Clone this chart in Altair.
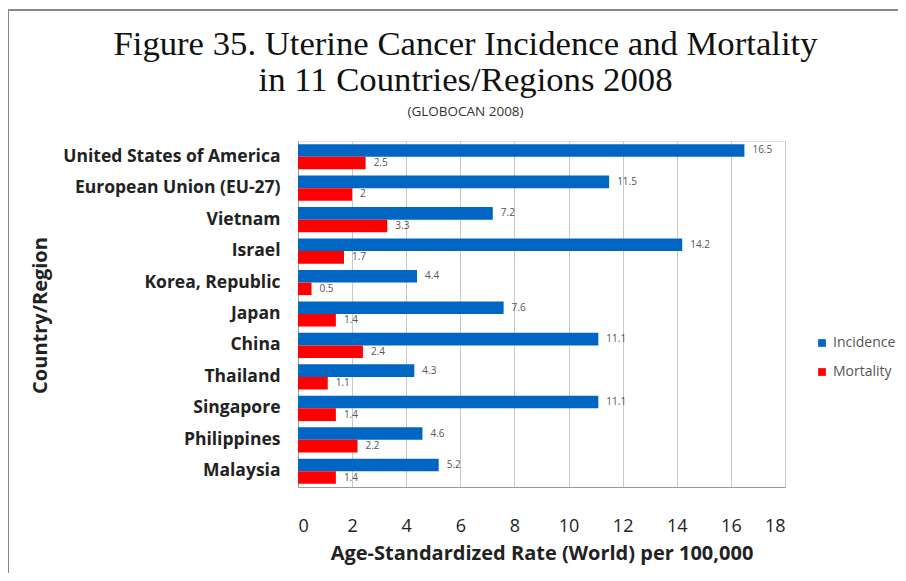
import altair as alt
import pandas as pd

countries = ["United States of America", "European Union (EU-27)", "Vietnam", "Israel",
             "Korea, Republic", "Japan", "China", "Thailand", "Singapore", "Philippines", "Malaysia"]
incidence = [16.5, 11.5, 7.2, 14.2, 4.4, 7.6, 11.1, 4.3, 11.1, 4.6, 5.2]
mortality = [2.5, 2, 3.3, 1.7, 0.5, 1.4, 2.4, 1.1, 1.4, 2.2, 1.4]
series = ["Incidence", "Mortality"]
colors = ["#0066C4", "#FF0000"]
x_ticks = list(range(0, 19, 2))

rows = []
for c, i, m in zip(countries, incidence, mortality):
    rows.append({"Country": c, "Series": "Incidence", "Value": i})
    rows.append({"Country": c, "Series": "Mortality", "Value": m})
df = pd.DataFrame(rows)

font = "Open Sans"

base = alt.Chart(df).encode(
    y=alt.Y("Country:N", sort=countries,
            scale=alt.Scale(paddingInner=0.2, paddingOuter=0.1),
            axis=alt.Axis(title="Country/Region", titleFont=font, titleFontSize=20,
                          titleFontWeight="bold", titleColor="#222",
                          titleX=-248, titleY=174,
                          labelFont=font, labelFontSize=17.5, labelFontWeight="bold",
                          labelColor="#222", labelPadding=18, labelLimit=400, ticks=False,
                          domainColor="#999", grid=False)),
    yOffset=alt.YOffset("Series:N", sort=series),
)

bars = base.mark_bar().encode(
    x=alt.X("Value:Q", scale=alt.Scale(domain=[0, 18]),
            axis=alt.Axis(values=x_ticks, title="Age-Standardized Rate (World) per 100,000",
                          titleFont=font, titleFontSize=20, titleFontWeight="bold",
                          titleColor="#222", titlePadding=8,
                          labelFont=font, labelFontSize=18, labelColor="#222",
                          labelPadding=30, ticks=False, domainColor="#999",
                          grid=True, gridColor="#c8c8c8")),
    color=alt.Color("Series:N", sort=series,
                    scale=alt.Scale(domain=series, range=colors),
                    legend=alt.Legend(title=None, orient="none", legendX=517, legendY=195,
                                      symbolType="square", symbolSize=60, symbolStrokeWidth=0,
                                      labelFont=font, labelFontSize=14, labelColor="#555",
                                      rowPadding=15)),
)

labels = base.mark_text(align="left", dx=8, fontSize=10, font=font, color="#555").encode(
    x="Value:Q",
    text=alt.Text("Value:Q"),
)

frame_df = pd.DataFrame({"k": [0]})
frame_v = alt.Chart(frame_df).mark_rule(color="#8a8a8a", strokeWidth=2).encode(
    x=alt.value(-290), y=alt.value(-131), y2=alt.value(440))
frame_h = alt.Chart(frame_df).mark_rule(color="#8a8a8a", strokeWidth=2).encode(
    x=alt.value(-291), x2=alt.value(620), y=alt.value(-131))

chart = alt.layer(frame_v, frame_h, bars, labels).properties(
    width=487, height=346,
    autosize=alt.AutoSizeParams(type="none"),
    padding={"left": 290, "top": 133, "right": 113, "bottom": 86},
    title=alt.TitleParams(
        text=["Figure 35. Uterine Cancer Incidence and Mortality", "in 11 Countries/Regions 2008"],
        subtitle="(GLOBOCAN 2008)",
        font="Liberation Serif", fontSize=34.7, fontWeight="normal", color="#111",
        lineHeight=36, subtitleFont=font, subtitleFontSize=13.5, subtitleColor="#333",
        anchor="middle", frame="group", dx=-76, offset=-110, subtitlePadding=6,
    ),
).configure_view(stroke=None).configure(background="white")

chart.save("out.html", embed_options={"renderer": "svg", "actions": False})
